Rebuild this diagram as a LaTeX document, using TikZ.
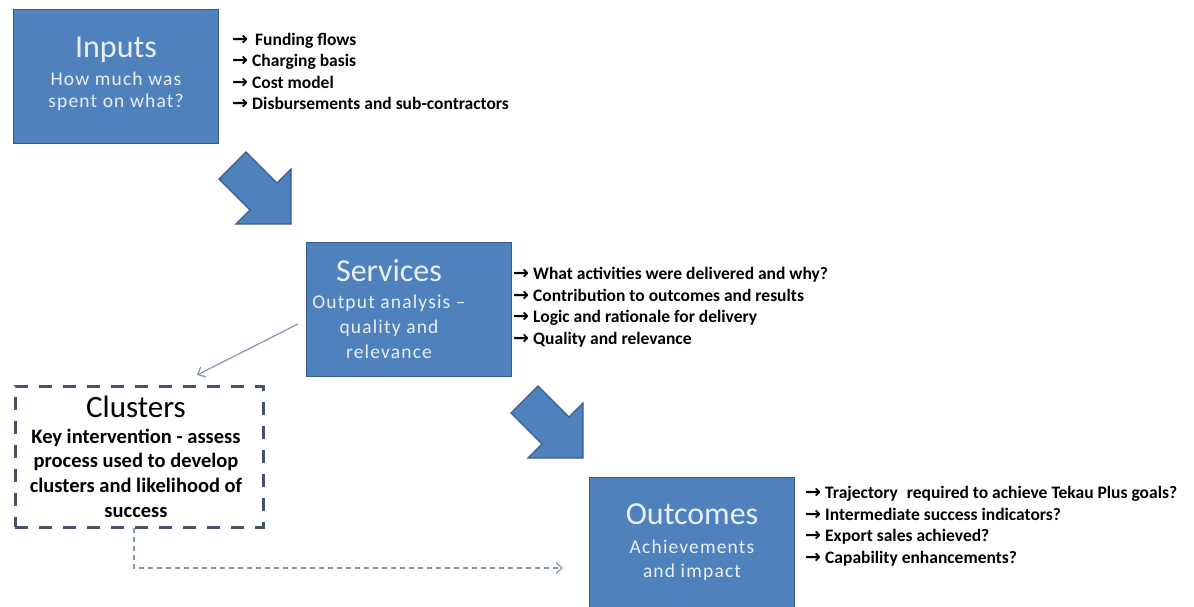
\documentclass[tikz,border=0pt]{standalone}
\usepackage{fontspec}
\setmainfont{Carlito}
\newfontfamily\subfont{Carlito}[LetterSpace=6]
\newfontfamily\arrowfont{DejaVu Sans}
\usetikzlibrary{arrows.meta}
\definecolor{boxblue}{HTML}{4F81BD}
\definecolor{boxline}{HTML}{385D8A}
\definecolor{boxtext}{HTML}{E8EFF8}
\definecolor{clusterline}{HTML}{46526A}
\definecolor{linkline}{HTML}{8394B6}
\newcommand{\bulletarrow}{\makebox[20pt][l]{\arrowfont\bfseries\fontsize{19}{19}\selectfont →}}
\begin{document}
\begin{tikzpicture}[x=1pt,y=-1pt,
  stagebox/.style={draw=boxline, line width=1.3pt, fill=boxblue, anchor=north west,
    minimum width=205pt, minimum height=134pt, inner sep=0},
  boxtitle/.style={anchor=base, inner sep=0, text=boxtext, font=\fontsize{32}{32}\selectfont},
  boxsub/.style={anchor=base, inner sep=0, text=boxtext, font=\subfont\fontsize{19.5}{22}\selectfont},
  bullet/.style={anchor=base west, inner sep=0, font=\fontsize{17.5}{21}\selectfont\bfseries},
  clusterbox/.style={draw=clusterline, line width=2.5pt, dash pattern=on 13pt off 11pt,
    anchor=north west, minimum width=248pt, minimum height=141pt, inner sep=0},
  clustertitle/.style={anchor=base, inner sep=0, font=\fontsize{31}{31}\selectfont},
  clusterbody/.style={anchor=base, inner sep=0, font=\fontsize{20.5}{24}\selectfont\bfseries},
  link/.style={draw=linkline, line width=1.2pt, -{Straight Barb[length=6pt,width=11pt]}},
  dashedlink/.style={draw=linkline, line width=1.2pt, dash pattern=on 5pt off 4pt,
    -{Straight Barb[length=6pt,width=11pt]}},
  bigarrow/.pic={
    \draw[draw=boxline, line width=1.2pt, fill=boxblue, line join=miter]
      (0,0) -- (-55,0) -- (-41,-14) -- (-72,-45) -- (-45,-72) -- (-14,-41) -- (0,-55) -- cycle;
  }]
\useasboundingbox (0,0) rectangle (1194,607);

% stage boxes
\node[stagebox] (inputs) at (13,9) {};
\node[stagebox] (services) at (306,242) {};
\node[stagebox] (outcomes) at (589,477) {};

% block arrows between stages
\pic (arrowone) at (291,224) {bigarrow};
\pic (arrowtwo) at (583,458) {bigarrow};

% box captions
\node[boxtitle] (inputstitle) at (116,58) {Inputs};
\node[boxsub] (inputssubA) at (116,86) {How much was};
\node[boxsub] (inputssubB) at (116,108) {spent on what?};

\node[boxtitle] (servicestitle) at (389,281) {Services};
\node[boxsub] (servicessubA) at (389,308) {Output analysis –};
\node[boxsub] (servicessubB) at (389,333) {quality and};
\node[boxsub] (servicessubC) at (389,358) {relevance};

\node[boxtitle] (outcomestitle) at (692,524) {Outcomes};
\node[boxsub] (outcomessubA) at (692,553) {Achievements};
\node[boxsub] (outcomessubB) at (692,577) {and impact};

% bullet lists
\node[bullet] (inb0) at (232,45.5) {\bulletarrow\hspace{3pt}Funding flows};
\node[bullet] (inb1) at (232,67) {\bulletarrow Charging basis};
\node[bullet] (inb2) at (232,88.5) {\bulletarrow Cost model};
\node[bullet] (inb3) at (232,110) {\bulletarrow Disbursements and sub-contractors};

\node[bullet] (svb0) at (513,279.5) {\bulletarrow What activities were delivered and why?};
\node[bullet] (svb1) at (513,301) {\bulletarrow Contribution to outcomes and results};
\node[bullet] (svb2) at (513,322.5) {\bulletarrow Logic and rationale for delivery};
\node[bullet] (svb3) at (513,344) {\bulletarrow Quality and relevance};

\node[bullet] (ocb0) at (805,498.5) {\bulletarrow Trajectory\hspace{5pt} required to achieve Tekau Plus goals?};
\node[bullet] (ocb1) at (805,520) {\bulletarrow Intermediate success indicators?};
\node[bullet] (ocb2) at (805,541.5) {\bulletarrow Export sales achieved?};
\node[bullet] (ocb3) at (805,563) {\bulletarrow Capability enhancements?};

% clusters box
\node[clusterbox] (clusters) at (14,385) {};
\node[clustertitle] (clusterstitle) at (136,417) {Clusters};
\node[clusterbody] (clustersA) at (136,443) {Key intervention - assess};
\node[clusterbody] (clustersB) at (136,467.5) {process used to develop};
\node[clusterbody] (clustersC) at (136,492) {clusters and likelihood of};
\node[clusterbody] (clustersD) at (136,517) {success};

% connectors
\coordinate (svcout) at (298,324);
\coordinate (clusin) at (197,375);
\draw[link] (svcout) -- (clusin);

\coordinate (clusout) at (134,528);
\coordinate (outin) at (563,568);
\draw[dashedlink] (clusout) |- (outin);
\end{tikzpicture}
\end{document}
